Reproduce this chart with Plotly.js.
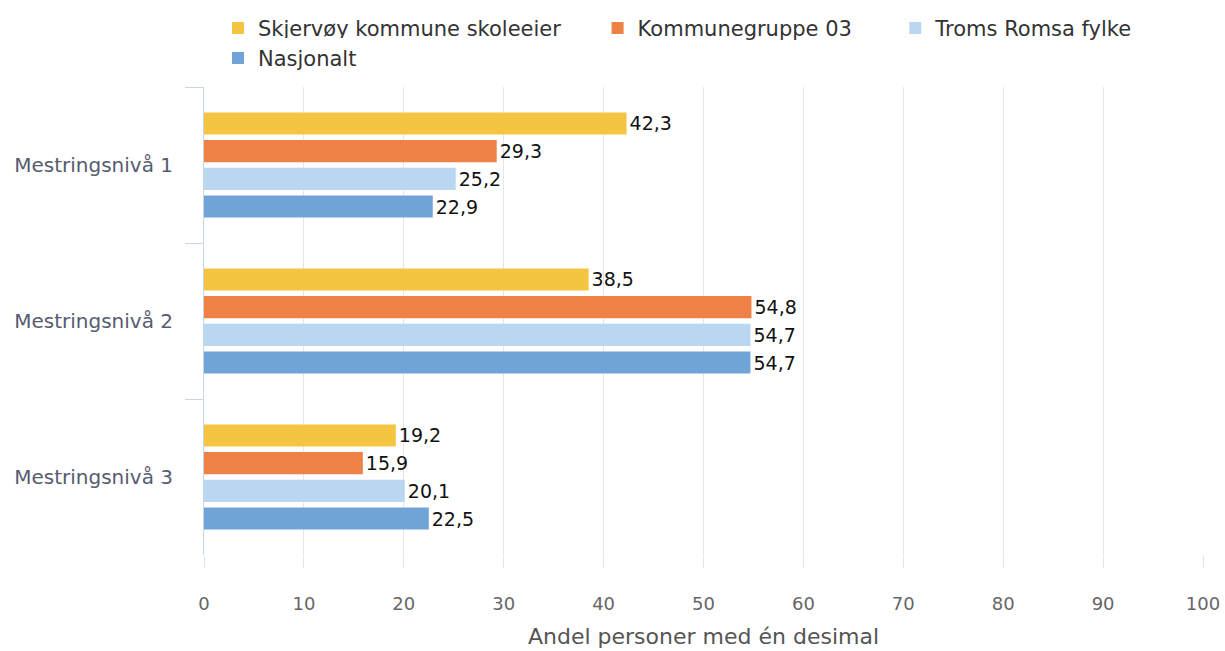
<!DOCTYPE html>
<html><head><meta charset="utf-8">
<script src="https://cdn.plot.ly/plotly-3.0.1.min.js"></script>
<style>html,body{margin:0;padding:0;background:#fff}#chart{width:1225px;height:651px}</style>
</head><body><div id="chart"></div>
<script>
const categories = ["Mestringsnivå 1", "Mestringsnivå 2", "Mestringsnivå 3"];
const seriesNames = ["Skjervøy kommune skoleeier", "Kommunegruppe 03", "Troms Romsa fylke", "Nasjonalt"];
const skjervoy = [42.3, 38.5, 19.2];
const kommunegruppe = [29.3, 54.8, 15.9];
const troms = [25.2, 54.7, 20.1];
const nasjonalt = [22.9, 54.7, 22.5];
const colors = ["#f5c542", "#ee8246", "#b9d7f1", "#70a3d8"];
const allValues = [skjervoy, kommunegruppe, troms, nasjonalt];
const legendIds = ['legend', 'legend2', 'legend3', 'legend4'];

const fmt = v => v.toFixed(1).replace('.', ',');
const traces = allValues.map((vals, i) => ({
  type: 'bar', orientation: 'h', name: seriesNames[i],
  y: categories, x: vals,
  marker: {color: colors[i]},
  text: vals.map(fmt), textposition: 'outside', cliponaxis: false, constraintext: 'none',
  textfont: {color: '#111', size: 19, family: 'DejaVu Sans, sans-serif'},
  legend: legendIds[i],
  hoverinfo: 'x+name'
}));

const legendCommon = {orientation: 'h', xanchor: 'left', yanchor: 'top', yref: 'container',
  traceorder: 'normal', font: {size: 21, color: '#333'}};

const layout = {
  width: 1225, height: 651,
  margin: {l: 204, r: 22, t: 87, b: 96},
  barmode: 'group', bargap: 0.29, bargroupgap: 0.2,
  font: {family: 'DejaVu Sans, sans-serif', size: 18, color: '#555'},
  showlegend: true,
  legend: Object.assign({}, legendCommon, {x: 0.014, y: 0.988}),
  legend2: Object.assign({}, legendCommon, {x: 0.394, y: 0.988}),
  legend3: Object.assign({}, legendCommon, {x: 0.692, y: 0.988}),
  legend4: Object.assign({}, legendCommon, {x: 0.014, y: 0.942}),
  xaxis: {range: [0, 100], dtick: 10, showgrid: true, gridcolor: '#e6e6e6', zeroline: false,
    showline: false, ticks: 'outside', ticklen: 12, tickcolor: '#dde6f0',
    tickfont: {size: 18, color: '#666'}, ticklabelstandoff: 20,
    title: {text: 'Andel personer med én desimal', font: {size: 22, color: '#555'}, standoff: 16}},
  yaxis: {autorange: 'reversed', showline: true, linecolor: '#c8d6e6', ticks: 'outside',
    tickson: 'boundaries', ticklen: 18, tickcolor: '#c8d6e6', showgrid: false,
    tickfont: {size: 20, color: '#555c70'}, ticklabelstandoff: 26}
};
Plotly.newPlot('chart', traces, layout, {displayModeBar: false, staticPlot: true});
</script></body></html>
